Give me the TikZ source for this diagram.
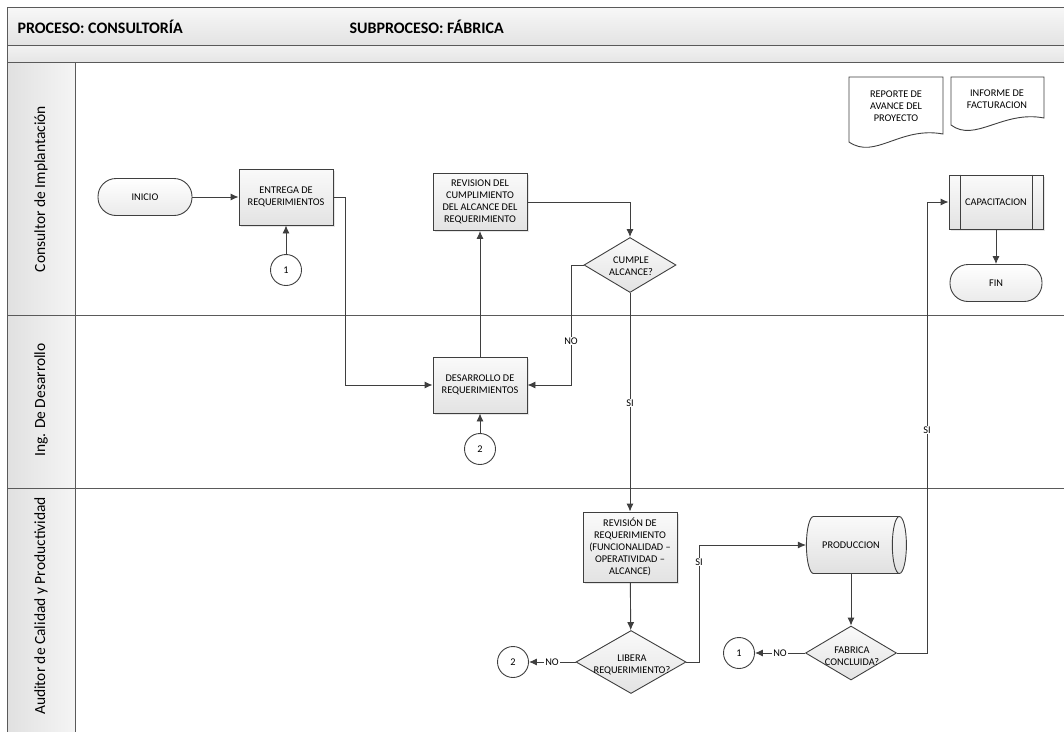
\documentclass[tikz,border=0pt]{standalone}
\usepackage{fontspec}
\setmainfont{Carlito}
\usepackage{tikz}
\usetikzlibrary{shapes.geometric, arrows, arrows.meta, shadows}
\definecolor{linea}{HTML}{3F3F3F}
\definecolor{borde}{HTML}{5A5A5A}
\tikzstyle{texto} = [align=center, inner sep=0pt, font=\fontsize{10.3}{12}\selectfont]
\tikzstyle{proceso} = [rectangle, draw=linea, line width=0.9pt, top color=white!98!black, bottom color=white!89!black, minimum width=94pt, minimum height=56pt, inner sep=1pt, align=center, font=\fontsize{10.3}{12}\selectfont, drop shadow={opacity=0.2, shadow xshift=1.6pt, shadow yshift=-1.6pt}]
\tikzstyle{decision} = [diamond, draw=linea, line width=0.9pt, top color=white!98!black, bottom color=white!89!black, inner sep=0pt, minimum width=92pt, minimum height=55pt]
\tikzstyle{terminal} = [rectangle, rounded corners=18pt, draw=linea, line width=0.9pt, top color=white, bottom color=white!92!black, minimum width=94pt, minimum height=37pt, font=\fontsize{10.3}{12}\selectfont]
\tikzstyle{conector} = [circle, draw=linea, line width=0.9pt, fill=white, minimum size=31pt, inner sep=0pt, font=\fontsize{10.3}{12}\selectfont]
\tikzstyle{etiqueta} = [fill=white, inner sep=1pt, font=\fontsize{10.3}{12}\selectfont]
\tikzstyle{arrow} = [draw=linea, line width=0.9pt, -{Latex[length=8pt,width=7pt]}]
\tikzstyle{linea} = [draw=linea, line width=0.9pt]
\tikzstyle{documento} = [draw=linea, line width=0.9pt, fill=white]

\begin{document}
\begin{tikzpicture}[x=1pt, y=-1pt]
                            \useasboundingbox (0,0) rectangle (1064,731);
                            \draw[borde, line width=1pt, top color=white!97!black, bottom color=white!89!black] (7,7) rectangle (1066,45);
                            \draw[borde, line width=1pt, top color=white!95!black, bottom color=white!90!black] (7,45) rectangle (1066,62);
                            \draw[borde, line width=1pt, left color=white!88!black, right color=white!96!black] (7,62) rectangle (75,733);
                            \draw[borde, line width=1pt] (7,315) -- (1066,315);
                            \draw[borde, line width=1pt] (7,488) -- (1066,488);
                            \node[anchor=west, font=\fontsize{16}{18}\selectfont\bfseries] (proceso) at (14,27) {PROCESO: CONSULTORÍA};
                            \node[anchor=west, font=\fontsize{16}{18}\selectfont\bfseries] (subproceso) at (346,27) {SUBPROCESO: FÁBRICA};
                            \node[rotate=90, font=\fontsize{15.5}{18}\selectfont] (carril1) at (41,189) {Consultor de Implantación};
                            \node[rotate=90, font=\fontsize{15.5}{18}\selectfont] (carril2) at (41,400) {Ing. De Desarrollo};
                            \node[rotate=90, font=\fontsize{15.5}{18}\selectfont] (carril3) at (41,606) {Auditor de Calidad y Productividad};

                            \draw[documento] (849,77) -- (943,77) -- (943,134) .. controls (900,126) and (875,160) .. (849,142) -- cycle;
                            \node[texto] (reporte) at (896,106) {REPORTE DE\\AVANCE DEL\\PROYECTO};
                            \draw[documento] (951,77) -- (1044,77) -- (1044,118) .. controls (1003,110) and (975,143) .. (951,125) -- cycle;
                            \node[texto] (informe) at (997,99) {INFORME DE\\FACTURACION};

                            \node[terminal] (inicio) at (145,197) {INICIO};
                            \node[proceso] (entrega) at (286,197) {ENTREGA DE\\REQUERIMIENTOS};
                            \node[conector] (c1a) at (286,270) {1};
                            \node[proceso, minimum height=57pt] (revision) at (480,202) {REVISION DEL\\CUMPLIMIENTO\\DEL ALCANCE DEL\\REQUERIMIENTO};
                            \node[decision] (cumple) at (630,265) {};
                            \node[texto] (cumple-t) at (631,266) {CUMPLE\\ALCANCE?};
                            \node[proceso, minimum width=94pt, minimum height=54pt] (capacitacion) at (996,202) {CAPACITACION};
                            \draw[linea] ([xshift=12pt]capacitacion.north west) -- ([xshift=12pt]capacitacion.south west);
                            \draw[linea] ([xshift=-11pt]capacitacion.north east) -- ([xshift=-11pt]capacitacion.south east);
                            \node[terminal, minimum width=92pt] (fin) at (996,283) {FIN};

                            \node[proceso] (desarrollo) at (480,385) {DESARROLLO DE\\REQUERIMIENTOS};
                            \node[conector] (c2a) at (480,449) {2};

                            \node[proceso, minimum height=70pt] (revreq) at (630,547) {REVISIÓN DE\\REQUERIMIENTO\\(FUNCIONALIDAD –\\OPERATIVIDAD –\\ALCANCE)};
                            \node[decision, minimum width=110pt, minimum height=63pt] (libera) at (631,662) {};
                            \node[texto] (libera-t) at (632,665) {LIBERA\\REQUERIMIENTO?};
                            \node[conector] (c2b) at (513,662) {2};
                            \node[cylinder, draw=linea, line width=0.9pt, top color=white!98!black, bottom color=white!88!black, shape aspect=1.05, minimum width=57pt, minimum height=100pt, font=\fontsize{10.3}{12}\selectfont] (produccion) at (851,545) {PRODUCCION};
                            \node[decision, minimum width=91pt, minimum height=54pt] (fabrica) at (851,653) {};
                            \node[texto] (fabrica-t) at (852,656) {FABRICA\\CONCLUIDA?};
                            \node[conector] (c1b) at (739,653) {1};

                            \coordinate (d1) at (571,385);
                            \coordinate (d2) at (345,385);
                            \coordinate (d3) at (699,545);
                            \coordinate (d4) at (927,202);

                            \draw[arrow] (inicio) -- (entrega);
                            \draw[arrow] (c1a) -- (entrega);
                            \draw[arrow] (entrega.east) -| (d2) -- (desarrollo.west);
                            \draw[arrow] (desarrollo) -- (revision);
                            \draw[arrow] (c2a) -- (desarrollo);
                            \draw[arrow] (revision.east) -| (cumple.north);
                            \draw[arrow] (cumple.west) -| (d1) -- (desarrollo.east);
                            \draw[arrow] (cumple.south) -- (revreq.north);
                            \draw[arrow] (revreq) -- (libera);
                            \draw[arrow] (libera.west) -- (c2b.east);
                            \draw[arrow] (libera.east) -| (d3) -- (produccion.west);
                            \draw[arrow] (produccion.south -| fabrica.north) -- (fabrica.north);
                            \draw[arrow] (fabrica.west) -- (c1b.east);
                            \draw[arrow] (fabrica.east) -| (d4) -- (capacitacion.west);
                            \draw[arrow] (capacitacion) -- (fin);

                            \node[etiqueta] (no1) at (571,341) {NO};
                            \node[etiqueta] (si1) at (630,403) {SI};
                            \node[etiqueta] (no2) at (552,662) {NO};
                            \node[etiqueta] (si2) at (699,562) {SI};
                            \node[etiqueta] (no3) at (780,653) {NO};
                            \node[etiqueta] (si3) at (927,430) {SI};
                        \end{tikzpicture}
\end{document}
